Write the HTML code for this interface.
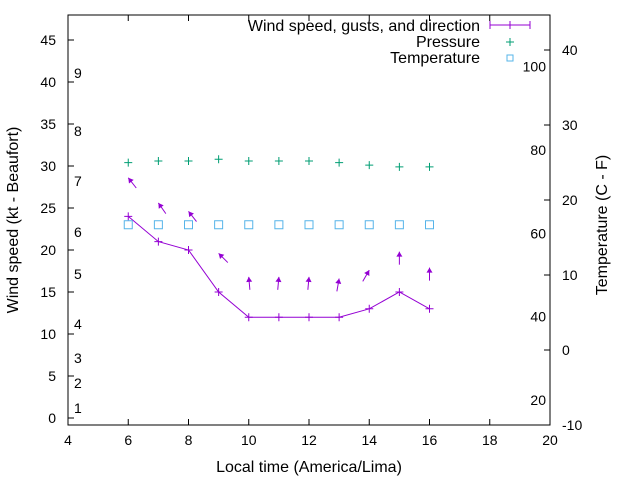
<!DOCTYPE html>
<html><head><meta charset="utf-8"><style>
body{margin:0;background:#fff}
svg{font-family:"Liberation Sans",sans-serif;font-size:14px}
.big{font-size:16px}
</style></head><body>
<svg id="c" width="640" height="480"></svg>
<script>
const hours=[6,7,8,9,10,11,12,13,14,15,16];
const wind=[24,21,20,15,12,12,12,12,13,15,13];
const gusts=[28.6,25.6,24.6,19.6,16.8,16.8,16.8,16.6,17.6,19.8,17.9];
const dirs=[-38,-35,-38,-45,-5,5,5,10,30,0,0];
const pressure=[30.4,30.6,30.6,30.8,30.6,30.6,30.6,30.4,30.1,29.9,29.9];
const temps=[16.7,16.7,16.7,16.7,16.7,16.7,16.7,16.7,16.7,16.7,16.7];
const xTicks=[4,6,8,10,12,14,16,18,20];
const yTicks=[0,5,10,15,20,25,30,35,40,45];
const y2Ticks=[-10,0,10,20,30,40];
const fTicks=[20,40,60,80,100];
const bft=[[1,408],[2,383],[3,358],[4,324],[5,274],[6,232],[7,181],[8,131],[9,73]];
const L=68,R=550,T=15,B=425;
const X=v=>L+(v-4)*(R-L)/16;
const Y=v=>418-v*8.4;
const Y2=v=>425-(v+10)*7.5;
const F=f=>Y2((f-32)*5/9);
const s=document.getElementById('c');const NS='http://www.w3.org/2000/svg';
function el(t,a,txt){const e=document.createElementNS(NS,t);for(const k in a)e.setAttribute(k,a[k]);if(txt!==undefined)e.textContent=txt;s.appendChild(e);return e;}
let e;
e=el('rect',{x:L,y:T,width:R-L,height:B-T,fill:'none',stroke:'#000'});


xTicks.forEach(v=>{
 e=el('path',{d:`M${X(v)},${B}v-6M${X(v)},${T}v6`,stroke:'#000'});
 
 
 e=el('text',{x:X(v),y:B+20,'text-anchor':'middle'},v);
 
 
});
yTicks.forEach(v=>{
 e=el('path',{d:`M${L},${Y(v)}h6`,stroke:'#000'});
 
 
 e=el('text',{x:L-12,y:Y(v)+5,'text-anchor':'end'},v);
 
 
});
y2Ticks.forEach(v=>{
 e=el('path',{d:`M${R},${Y2(v)}h-6`,stroke:'#000'});
 
 
 e=el('text',{x:R+12,y:Y2(v)+5},v);
 
 
});
fTicks.forEach(v=>{
 e=el('text',{x:546,y:F(v)+5,'text-anchor':'end'},v);
 
 
});
bft.forEach(b=>{
 e=el('text',{x:74,y:b[1]+5},b[0]);
 
 
});
e=el('text',{x:309,y:472,'text-anchor':'middle',class:'big'},'Local time (America/Lima)');


e=el('text',{x:0,y:0,'text-anchor':'middle',class:'big',transform:'translate(18,220) rotate(-90)'},'Wind speed (kt - Beaufort)');


e=el('text',{x:0,y:0,'text-anchor':'middle',class:'big',transform:'translate(607,225) rotate(-90)'},'Temperature (C - F)');


e=el('polyline',{points:hours.map((h,i)=>X(h)+','+Y(wind[i])).join(' '),fill:'none',stroke:'#9400d3'});


const plus=(x,y,c,n)=>{e=el('path',{d:`M${x-4},${y}h8M${x},${y-4}v8`,stroke:c});};
hours.forEach((h,i)=>{
 plus(X(h),Y(wind[i]),'#9400d3','wind-point');
 plus(X(h),Y(pressure[i]),'#009e73','pressure-point');
 e=el('rect',{x:X(h)-4,y:Y2(temps[i])-4,width:8,height:8,fill:'none',stroke:'#56b4e9'});
 
 
 const a=dirs[i]*Math.PI/180,len=13,hx=X(h),hy=Y(gusts[i]);
 const dx=Math.sin(a),dy=-Math.cos(a);
 const tx=hx-dx*len,ty=hy-dy*len;
 const px=-dy,py=dx;
 const bx=hx-dx*5,by=hy-dy*5;
 e=el('path',{d:`M${tx},${ty}L${hx},${hy}`,stroke:'#9400d3'});
 
 
 e=el('path',{d:`M${hx},${hy}L${bx+px*3},${by+py*3}L${bx-px*3},${by-py*3}Z`,fill:'#9400d3',stroke:'none'});
 
 
});
e=el('text',{x:480,y:31,'text-anchor':'end',class:'big'},'Wind speed, gusts, and direction');


e=el('path',{d:'M490,25h40M490,21v8M530,21v8M510,21v8',stroke:'#9400d3'});


e=el('text',{x:480,y:47,'text-anchor':'end',class:'big'},'Pressure');


plus(510,42,'#009e73','legend-pressure-sample');
e=el('text',{x:480,y:63,'text-anchor':'end',class:'big'},'Temperature');


e=el('rect',{x:507,y:55,width:6,height:6,fill:'none',stroke:'#56b4e9'});


</script>
</body></html>
